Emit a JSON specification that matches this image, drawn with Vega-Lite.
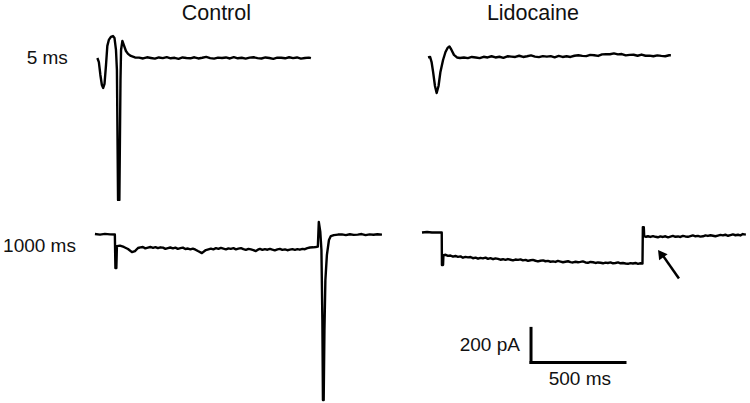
{
  "$schema": "https://vega.github.io/schema/vega-lite/v6.json",
  "padding": 0,
  "autosize": {"type": "pad"},
  "bounds": "flush",
  "spacing": 0,
  "columns": 2,
  "background": "white",
  "config": {"view": {"stroke": null}, "font": "Liberation Sans", "text": {"font": "Liberation Sans", "color": "#111"}},
  "datasets": {
    "traces": [
      {"trace":"Control 5 ms","t":13,"pA":0},{"trace":"Control 5 ms","t":21,"pA":-24},{"trace":"Control 5 ms","t":29,"pA":-100},{"trace":"Control 5 ms","t":37,"pA":-159},{"trace":"Control 5 ms","t":44,"pA":-176},{"trace":"Control 5 ms","t":51,"pA":-153},{"trace":"Control 5 ms","t":59,"pA":-41},{"trace":"Control 5 ms","t":66,"pA":71},{"trace":"Control 5 ms","t":74,"pA":106},{"trace":"Control 5 ms","t":85,"pA":124},{"trace":"Control 5 ms","t":96,"pA":129},{"trace":"Control 5 ms","t":104,"pA":118},{"trace":"Control 5 ms","t":112,"pA":47},{"trace":"Control 5 ms","t":117,"pA":-71},{"trace":"Control 5 ms","t":123,"pA":-835},{"trace":"Control 5 ms","t":130,"pA":-835},{"trace":"Control 5 ms","t":136,"pA":-129},{"trace":"Control 5 ms","t":139,"pA":47},{"trace":"Control 5 ms","t":146,"pA":100},{"trace":"Control 5 ms","t":154,"pA":76},{"trace":"Control 5 ms","t":165,"pA":41},{"trace":"Control 5 ms","t":176,"pA":24},{"trace":"Control 5 ms","t":191,"pA":12},{"trace":"Control 5 ms","t":213,"pA":3},
      {"trace":"Control 5 ms","t":235,"pA":2},{"trace":"Control 5 ms","t":256,"pA":-3},{"trace":"Control 5 ms","t":277,"pA":4},{"trace":"Control 5 ms","t":298,"pA":0},{"trace":"Control 5 ms","t":319,"pA":-4},{"trace":"Control 5 ms","t":340,"pA":3},{"trace":"Control 5 ms","t":361,"pA":-1},{"trace":"Control 5 ms","t":382,"pA":5},{"trace":"Control 5 ms","t":403,"pA":-2},{"trace":"Control 5 ms","t":424,"pA":1},{"trace":"Control 5 ms","t":445,"pA":-5},{"trace":"Control 5 ms","t":466,"pA":3},{"trace":"Control 5 ms","t":487,"pA":0},{"trace":"Control 5 ms","t":508,"pA":-2},{"trace":"Control 5 ms","t":529,"pA":4},{"trace":"Control 5 ms","t":550,"pA":-3},{"trace":"Control 5 ms","t":571,"pA":1},{"trace":"Control 5 ms","t":592,"pA":6},{"trace":"Control 5 ms","t":613,"pA":-1},{"trace":"Control 5 ms","t":634,"pA":-4},{"trace":"Control 5 ms","t":655,"pA":2},{"trace":"Control 5 ms","t":676,"pA":0},{"trace":"Control 5 ms","t":697,"pA":3},{"trace":"Control 5 ms","t":718,"pA":-3},{"trace":"Control 5 ms","t":739,"pA":5},{"trace":"Control 5 ms","t":760,"pA":-2},{"trace":"Control 5 ms","t":781,"pA":1},{"trace":"Control 5 ms","t":802,"pA":-4},{"trace":"Control 5 ms","t":823,"pA":2},{"trace":"Control 5 ms","t":844,"pA":4},{"trace":"Control 5 ms","t":865,"pA":-1},{"trace":"Control 5 ms","t":886,"pA":-3},{"trace":"Control 5 ms","t":907,"pA":3},{"trace":"Control 5 ms","t":928,"pA":0},{"trace":"Control 5 ms","t":949,"pA":-5},{"trace":"Control 5 ms","t":970,"pA":2},{"trace":"Control 5 ms","t":991,"pA":1},{"trace":"Control 5 ms","t":1012,"pA":-2},{"trace":"Control 5 ms","t":1033,"pA":4},{"trace":"Control 5 ms","t":1054,"pA":-1},{"trace":"Control 5 ms","t":1075,"pA":3},{"trace":"Control 5 ms","t":1096,"pA":-4},{"trace":"Control 5 ms","t":1117,"pA":0},{"trace":"Control 5 ms","t":1138,"pA":2},{"trace":"Control 5 ms","t":1149,"pA":-1},

      {"trace":"Lidocaine 5 ms","t":32,"pA":3},{"trace":"Lidocaine 5 ms","t":43,"pA":6},{"trace":"Lidocaine 5 ms","t":51,"pA":-24},{"trace":"Lidocaine 5 ms","t":59,"pA":-82},{"trace":"Lidocaine 5 ms","t":69,"pA":-165},{"trace":"Lidocaine 5 ms","t":78,"pA":-206},{"trace":"Lidocaine 5 ms","t":88,"pA":-165},{"trace":"Lidocaine 5 ms","t":98,"pA":-82},{"trace":"Lidocaine 5 ms","t":112,"pA":-12},{"trace":"Lidocaine 5 ms","t":125,"pA":35},{"trace":"Lidocaine 5 ms","t":136,"pA":59},{"trace":"Lidocaine 5 ms","t":146,"pA":68},{"trace":"Lidocaine 5 ms","t":157,"pA":47},{"trace":"Lidocaine 5 ms","t":170,"pA":18},{"trace":"Lidocaine 5 ms","t":186,"pA":3},{"trace":"Lidocaine 5 ms","t":202,"pA":0},
      {"trace":"Lidocaine 5 ms","t":223,"pA":3},{"trace":"Lidocaine 5 ms","t":244,"pA":-1},{"trace":"Lidocaine 5 ms","t":265,"pA":6},{"trace":"Lidocaine 5 ms","t":286,"pA":3},{"trace":"Lidocaine 5 ms","t":307,"pA":-1},{"trace":"Lidocaine 5 ms","t":328,"pA":7},{"trace":"Lidocaine 5 ms","t":349,"pA":3},{"trace":"Lidocaine 5 ms","t":370,"pA":10},{"trace":"Lidocaine 5 ms","t":391,"pA":3},{"trace":"Lidocaine 5 ms","t":412,"pA":7},{"trace":"Lidocaine 5 ms","t":433,"pA":1},{"trace":"Lidocaine 5 ms","t":454,"pA":10},{"trace":"Lidocaine 5 ms","t":475,"pA":8},{"trace":"Lidocaine 5 ms","t":496,"pA":6},{"trace":"Lidocaine 5 ms","t":517,"pA":13},{"trace":"Lidocaine 5 ms","t":538,"pA":6},{"trace":"Lidocaine 5 ms","t":559,"pA":10},{"trace":"Lidocaine 5 ms","t":580,"pA":15},{"trace":"Lidocaine 5 ms","t":601,"pA":8},{"trace":"Lidocaine 5 ms","t":622,"pA":5},{"trace":"Lidocaine 5 ms","t":643,"pA":11},{"trace":"Lidocaine 5 ms","t":664,"pA":8},{"trace":"Lidocaine 5 ms","t":685,"pA":11},{"trace":"Lidocaine 5 ms","t":706,"pA":4},{"trace":"Lidocaine 5 ms","t":727,"pA":12},{"trace":"Lidocaine 5 ms","t":748,"pA":6},{"trace":"Lidocaine 5 ms","t":769,"pA":10},{"trace":"Lidocaine 5 ms","t":790,"pA":6},{"trace":"Lidocaine 5 ms","t":811,"pA":13},{"trace":"Lidocaine 5 ms","t":832,"pA":16},{"trace":"Lidocaine 5 ms","t":853,"pA":12},{"trace":"Lidocaine 5 ms","t":874,"pA":11},{"trace":"Lidocaine 5 ms","t":895,"pA":18},{"trace":"Lidocaine 5 ms","t":916,"pA":16},{"trace":"Lidocaine 5 ms","t":937,"pA":12},{"trace":"Lidocaine 5 ms","t":958,"pA":21},{"trace":"Lidocaine 5 ms","t":979,"pA":22},{"trace":"Lidocaine 5 ms","t":1000,"pA":22},{"trace":"Lidocaine 5 ms","t":1021,"pA":27},{"trace":"Lidocaine 5 ms","t":1042,"pA":21},{"trace":"Lidocaine 5 ms","t":1063,"pA":23},{"trace":"Lidocaine 5 ms","t":1084,"pA":15},{"trace":"Lidocaine 5 ms","t":1105,"pA":18},{"trace":"Lidocaine 5 ms","t":1126,"pA":19},{"trace":"Lidocaine 5 ms","t":1147,"pA":13},{"trace":"Lidocaine 5 ms","t":1168,"pA":20},{"trace":"Lidocaine 5 ms","t":1189,"pA":13},{"trace":"Lidocaine 5 ms","t":1210,"pA":14},{"trace":"Lidocaine 5 ms","t":1231,"pA":10},{"trace":"Lidocaine 5 ms","t":1252,"pA":15},{"trace":"Lidocaine 5 ms","t":1273,"pA":12},{"trace":"Lidocaine 5 ms","t":1294,"pA":10},{"trace":"Lidocaine 5 ms","t":1315,"pA":16},{"trace":"Lidocaine 5 ms","t":1324,"pA":16},

      {"trace":"Control 1000 ms","t":0,"pA":0},{"trace":"Control 1000 ms","t":27,"pA":-3},{"trace":"Control 1000 ms","t":53,"pA":1},{"trace":"Control 1000 ms","t":80,"pA":-2},{"trace":"Control 1000 ms","t":106,"pA":-3},{"trace":"Control 1000 ms","t":109,"pA":-200},{"trace":"Control 1000 ms","t":114,"pA":-200},{"trace":"Control 1000 ms","t":117,"pA":-71},{"trace":"Control 1000 ms","t":133,"pA":-68},{"trace":"Control 1000 ms","t":154,"pA":-76},{"trace":"Control 1000 ms","t":176,"pA":-88},{"trace":"Control 1000 ms","t":197,"pA":-106},{"trace":"Control 1000 ms","t":213,"pA":-100},{"trace":"Control 1000 ms","t":229,"pA":-82},{"trace":"Control 1000 ms","t":242,"pA":-78},{"trace":"Control 1000 ms","t":255,"pA":-76},{"trace":"Control 1000 ms","t":268,"pA":-84},{"trace":"Control 1000 ms","t":282,"pA":-80},{"trace":"Control 1000 ms","t":295,"pA":-76},{"trace":"Control 1000 ms","t":309,"pA":-81},{"trace":"Control 1000 ms","t":322,"pA":-77},{"trace":"Control 1000 ms","t":335,"pA":-83},{"trace":"Control 1000 ms","t":348,"pA":-78},{"trace":"Control 1000 ms","t":362,"pA":-80},{"trace":"Control 1000 ms","t":375,"pA":-87},{"trace":"Control 1000 ms","t":388,"pA":-83},{"trace":"Control 1000 ms","t":401,"pA":-79},{"trace":"Control 1000 ms","t":415,"pA":-84},{"trace":"Control 1000 ms","t":428,"pA":-80},{"trace":"Control 1000 ms","t":441,"pA":-87},{"trace":"Control 1000 ms","t":455,"pA":-83},{"trace":"Control 1000 ms","t":468,"pA":-80},{"trace":"Control 1000 ms","t":481,"pA":-88},{"trace":"Control 1000 ms","t":495,"pA":-85},{"trace":"Control 1000 ms","t":508,"pA":-90},{"trace":"Control 1000 ms","t":521,"pA":-86},{"trace":"Control 1000 ms","t":535,"pA":-92},{"trace":"Control 1000 ms","t":548,"pA":-100},{"trace":"Control 1000 ms","t":569,"pA":-112},{"trace":"Control 1000 ms","t":590,"pA":-94},{"trace":"Control 1000 ms","t":604,"pA":-90},{"trace":"Control 1000 ms","t":617,"pA":-86},{"trace":"Control 1000 ms","t":630,"pA":-90},{"trace":"Control 1000 ms","t":644,"pA":-83},{"trace":"Control 1000 ms","t":657,"pA":-87},{"trace":"Control 1000 ms","t":670,"pA":-81},{"trace":"Control 1000 ms","t":684,"pA":-86},{"trace":"Control 1000 ms","t":697,"pA":-90},{"trace":"Control 1000 ms","t":710,"pA":-84},{"trace":"Control 1000 ms","t":723,"pA":-87},{"trace":"Control 1000 ms","t":737,"pA":-83},{"trace":"Control 1000 ms","t":750,"pA":-90},{"trace":"Control 1000 ms","t":763,"pA":-86},{"trace":"Control 1000 ms","t":777,"pA":-83},{"trace":"Control 1000 ms","t":790,"pA":-89},{"trace":"Control 1000 ms","t":803,"pA":-93},{"trace":"Control 1000 ms","t":817,"pA":-87},{"trace":"Control 1000 ms","t":830,"pA":-90},{"trace":"Control 1000 ms","t":843,"pA":-94},{"trace":"Control 1000 ms","t":856,"pA":-100},{"trace":"Control 1000 ms","t":867,"pA":-92},{"trace":"Control 1000 ms","t":878,"pA":-87},{"trace":"Control 1000 ms","t":891,"pA":-93},{"trace":"Control 1000 ms","t":904,"pA":-89},{"trace":"Control 1000 ms","t":918,"pA":-92},{"trace":"Control 1000 ms","t":931,"pA":-87},{"trace":"Control 1000 ms","t":944,"pA":-92},{"trace":"Control 1000 ms","t":957,"pA":-96},{"trace":"Control 1000 ms","t":971,"pA":-90},{"trace":"Control 1000 ms","t":984,"pA":-87},{"trace":"Control 1000 ms","t":997,"pA":-93},{"trace":"Control 1000 ms","t":1011,"pA":-90},{"trace":"Control 1000 ms","t":1024,"pA":-95},{"trace":"Control 1000 ms","t":1037,"pA":-92},{"trace":"Control 1000 ms","t":1051,"pA":-89},{"trace":"Control 1000 ms","t":1064,"pA":-93},{"trace":"Control 1000 ms","t":1077,"pA":-89},{"trace":"Control 1000 ms","t":1090,"pA":-92},{"trace":"Control 1000 ms","t":1104,"pA":-87},{"trace":"Control 1000 ms","t":1117,"pA":-89},{"trace":"Control 1000 ms","t":1130,"pA":-83},{"trace":"Control 1000 ms","t":1144,"pA":-79},{"trace":"Control 1000 ms","t":1160,"pA":-78},{"trace":"Control 1000 ms","t":1175,"pA":-76},{"trace":"Control 1000 ms","t":1186,"pA":-74},{"trace":"Control 1000 ms","t":1191,"pA":71},{"trace":"Control 1000 ms","t":1199,"pA":12},{"trace":"Control 1000 ms","t":1205,"pA":-94},{"trace":"Control 1000 ms","t":1210,"pA":-506},{"trace":"Control 1000 ms","t":1213,"pA":-976},{"trace":"Control 1000 ms","t":1217,"pA":-976},{"trace":"Control 1000 ms","t":1221,"pA":-565},{"trace":"Control 1000 ms","t":1226,"pA":-271},{"trace":"Control 1000 ms","t":1234,"pA":-124},{"trace":"Control 1000 ms","t":1245,"pA":-35},{"trace":"Control 1000 ms","t":1255,"pA":-12},{"trace":"Control 1000 ms","t":1271,"pA":-6},{"trace":"Control 1000 ms","t":1293,"pA":-3},{"trace":"Control 1000 ms","t":1314,"pA":-2},{"trace":"Control 1000 ms","t":1335,"pA":-6},{"trace":"Control 1000 ms","t":1356,"pA":-1},{"trace":"Control 1000 ms","t":1377,"pA":-5},{"trace":"Control 1000 ms","t":1398,"pA":-3},{"trace":"Control 1000 ms","t":1419,"pA":0},{"trace":"Control 1000 ms","t":1440,"pA":-6},{"trace":"Control 1000 ms","t":1461,"pA":-2},{"trace":"Control 1000 ms","t":1482,"pA":-4},{"trace":"Control 1000 ms","t":1503,"pA":-1},{"trace":"Control 1000 ms","t":1527,"pA":-3},

      {"trace":"Lidocaine 1000 ms","t":0,"pA":9},{"trace":"Lidocaine 1000 ms","t":27,"pA":12},{"trace":"Lidocaine 1000 ms","t":53,"pA":9},{"trace":"Lidocaine 1000 ms","t":80,"pA":10},{"trace":"Lidocaine 1000 ms","t":105,"pA":9},{"trace":"Lidocaine 1000 ms","t":106,"pA":-182},{"trace":"Lidocaine 1000 ms","t":112,"pA":-182},{"trace":"Lidocaine 1000 ms","t":114,"pA":-124},{"trace":"Lidocaine 1000 ms","t":126,"pA":-122},{"trace":"Lidocaine 1000 ms","t":138,"pA":-128},{"trace":"Lidocaine 1000 ms","t":151,"pA":-126},{"trace":"Lidocaine 1000 ms","t":165,"pA":-133},{"trace":"Lidocaine 1000 ms","t":178,"pA":-129},{"trace":"Lidocaine 1000 ms","t":191,"pA":-134},{"trace":"Lidocaine 1000 ms","t":205,"pA":-131},{"trace":"Lidocaine 1000 ms","t":218,"pA":-139},{"trace":"Lidocaine 1000 ms","t":231,"pA":-134},{"trace":"Lidocaine 1000 ms","t":245,"pA":-137},{"trace":"Lidocaine 1000 ms","t":258,"pA":-135},{"trace":"Lidocaine 1000 ms","t":271,"pA":-142},{"trace":"Lidocaine 1000 ms","t":285,"pA":-139},{"trace":"Lidocaine 1000 ms","t":298,"pA":-145},{"trace":"Lidocaine 1000 ms","t":311,"pA":-140},{"trace":"Lidocaine 1000 ms","t":324,"pA":-143},{"trace":"Lidocaine 1000 ms","t":338,"pA":-139},{"trace":"Lidocaine 1000 ms","t":351,"pA":-146},{"trace":"Lidocaine 1000 ms","t":364,"pA":-142},{"trace":"Lidocaine 1000 ms","t":378,"pA":-148},{"trace":"Lidocaine 1000 ms","t":391,"pA":-143},{"trace":"Lidocaine 1000 ms","t":404,"pA":-146},{"trace":"Lidocaine 1000 ms","t":417,"pA":-151},{"trace":"Lidocaine 1000 ms","t":431,"pA":-148},{"trace":"Lidocaine 1000 ms","t":444,"pA":-152},{"trace":"Lidocaine 1000 ms","t":457,"pA":-147},{"trace":"Lidocaine 1000 ms","t":471,"pA":-151},{"trace":"Lidocaine 1000 ms","t":484,"pA":-155},{"trace":"Lidocaine 1000 ms","t":497,"pA":-150},{"trace":"Lidocaine 1000 ms","t":511,"pA":-152},{"trace":"Lidocaine 1000 ms","t":524,"pA":-149},{"trace":"Lidocaine 1000 ms","t":537,"pA":-155},{"trace":"Lidocaine 1000 ms","t":551,"pA":-152},{"trace":"Lidocaine 1000 ms","t":564,"pA":-158},{"trace":"Lidocaine 1000 ms","t":577,"pA":-154},{"trace":"Lidocaine 1000 ms","t":590,"pA":-152},{"trace":"Lidocaine 1000 ms","t":604,"pA":-157},{"trace":"Lidocaine 1000 ms","t":617,"pA":-161},{"trace":"Lidocaine 1000 ms","t":630,"pA":-157},{"trace":"Lidocaine 1000 ms","t":644,"pA":-155},{"trace":"Lidocaine 1000 ms","t":657,"pA":-160},{"trace":"Lidocaine 1000 ms","t":670,"pA":-158},{"trace":"Lidocaine 1000 ms","t":684,"pA":-163},{"trace":"Lidocaine 1000 ms","t":697,"pA":-161},{"trace":"Lidocaine 1000 ms","t":710,"pA":-164},{"trace":"Lidocaine 1000 ms","t":723,"pA":-158},{"trace":"Lidocaine 1000 ms","t":737,"pA":-162},{"trace":"Lidocaine 1000 ms","t":750,"pA":-166},{"trace":"Lidocaine 1000 ms","t":763,"pA":-163},{"trace":"Lidocaine 1000 ms","t":777,"pA":-160},{"trace":"Lidocaine 1000 ms","t":790,"pA":-165},{"trace":"Lidocaine 1000 ms","t":803,"pA":-167},{"trace":"Lidocaine 1000 ms","t":817,"pA":-163},{"trace":"Lidocaine 1000 ms","t":830,"pA":-166},{"trace":"Lidocaine 1000 ms","t":843,"pA":-164},{"trace":"Lidocaine 1000 ms","t":856,"pA":-161},{"trace":"Lidocaine 1000 ms","t":870,"pA":-167},{"trace":"Lidocaine 1000 ms","t":883,"pA":-169},{"trace":"Lidocaine 1000 ms","t":896,"pA":-164},{"trace":"Lidocaine 1000 ms","t":910,"pA":-166},{"trace":"Lidocaine 1000 ms","t":923,"pA":-170},{"trace":"Lidocaine 1000 ms","t":936,"pA":-167},{"trace":"Lidocaine 1000 ms","t":950,"pA":-169},{"trace":"Lidocaine 1000 ms","t":963,"pA":-172},{"trace":"Lidocaine 1000 ms","t":976,"pA":-168},{"trace":"Lidocaine 1000 ms","t":989,"pA":-170},{"trace":"Lidocaine 1000 ms","t":1003,"pA":-167},{"trace":"Lidocaine 1000 ms","t":1016,"pA":-172},{"trace":"Lidocaine 1000 ms","t":1029,"pA":-170},{"trace":"Lidocaine 1000 ms","t":1043,"pA":-167},{"trace":"Lidocaine 1000 ms","t":1056,"pA":-172},{"trace":"Lidocaine 1000 ms","t":1069,"pA":-170},{"trace":"Lidocaine 1000 ms","t":1083,"pA":-173},{"trace":"Lidocaine 1000 ms","t":1096,"pA":-175},{"trace":"Lidocaine 1000 ms","t":1109,"pA":-171},{"trace":"Lidocaine 1000 ms","t":1122,"pA":-173},{"trace":"Lidocaine 1000 ms","t":1136,"pA":-170},{"trace":"Lidocaine 1000 ms","t":1149,"pA":-175},{"trace":"Lidocaine 1000 ms","t":1162,"pA":-172},{"trace":"Lidocaine 1000 ms","t":1173,"pA":-174},{"trace":"Lidocaine 1000 ms","t":1175,"pA":41},{"trace":"Lidocaine 1000 ms","t":1180,"pA":41},{"trace":"Lidocaine 1000 ms","t":1182,"pA":-12},{"trace":"Lidocaine 1000 ms","t":1192,"pA":-16},{"trace":"Lidocaine 1000 ms","t":1202,"pA":-13},{"trace":"Lidocaine 1000 ms","t":1215,"pA":-17},{"trace":"Lidocaine 1000 ms","t":1229,"pA":-12},{"trace":"Lidocaine 1000 ms","t":1242,"pA":-16},{"trace":"Lidocaine 1000 ms","t":1255,"pA":-19},{"trace":"Lidocaine 1000 ms","t":1268,"pA":-14},{"trace":"Lidocaine 1000 ms","t":1282,"pA":-17},{"trace":"Lidocaine 1000 ms","t":1295,"pA":-13},{"trace":"Lidocaine 1000 ms","t":1309,"pA":-19},{"trace":"Lidocaine 1000 ms","t":1322,"pA":-15},{"trace":"Lidocaine 1000 ms","t":1335,"pA":-11},{"trace":"Lidocaine 1000 ms","t":1348,"pA":-16},{"trace":"Lidocaine 1000 ms","t":1362,"pA":-14},{"trace":"Lidocaine 1000 ms","t":1375,"pA":-17},{"trace":"Lidocaine 1000 ms","t":1388,"pA":-11},{"trace":"Lidocaine 1000 ms","t":1401,"pA":-14},{"trace":"Lidocaine 1000 ms","t":1415,"pA":-16},{"trace":"Lidocaine 1000 ms","t":1428,"pA":-12},{"trace":"Lidocaine 1000 ms","t":1441,"pA":-8},{"trace":"Lidocaine 1000 ms","t":1455,"pA":-13},{"trace":"Lidocaine 1000 ms","t":1468,"pA":-11},{"trace":"Lidocaine 1000 ms","t":1481,"pA":-15},{"trace":"Lidocaine 1000 ms","t":1495,"pA":-13},{"trace":"Lidocaine 1000 ms","t":1508,"pA":-8},{"trace":"Lidocaine 1000 ms","t":1521,"pA":-11},{"trace":"Lidocaine 1000 ms","t":1535,"pA":-7},{"trace":"Lidocaine 1000 ms","t":1548,"pA":-10},{"trace":"Lidocaine 1000 ms","t":1561,"pA":-13},{"trace":"Lidocaine 1000 ms","t":1574,"pA":-9},{"trace":"Lidocaine 1000 ms","t":1588,"pA":-5},{"trace":"Lidocaine 1000 ms","t":1601,"pA":-8},{"trace":"Lidocaine 1000 ms","t":1614,"pA":-4},{"trace":"Lidocaine 1000 ms","t":1628,"pA":-10},{"trace":"Lidocaine 1000 ms","t":1641,"pA":-6},{"trace":"Lidocaine 1000 ms","t":1654,"pA":-2},{"trace":"Lidocaine 1000 ms","t":1668,"pA":-7},{"trace":"Lidocaine 1000 ms","t":1681,"pA":-4},{"trace":"Lidocaine 1000 ms","t":1694,"pA":-8},{"trace":"Lidocaine 1000 ms","t":1707,"pA":0},{"trace":"Lidocaine 1000 ms","t":1723,"pA":-3}
    ]
  },
  "concat": [
    {
      "width": 422, "height": 205,
      "layer": [
        {
          "data": {"name": "traces"},
          "transform": [{"filter": "datum.trace === 'Control 5 ms'"}],
          "mark": {"type": "line", "color": "black", "strokeWidth": 2.4, "strokeJoin": "round"},
          "encoding": {
            "x": {"field": "t", "type": "quantitative", "scale": {"domain": [-505, 1740], "nice": false, "zero": false}, "axis": null},
            "y": {"field": "pA", "type": "quantitative", "scale": {"domain": [-865, 341], "nice": false, "zero": false}, "axis": null}
          }
        },
        {
          "data": {"values": [{"label": "Control", "t": 646, "pA": 259}]},
          "mark": {"type": "text", "fontSize": 21.5, "align": "center", "baseline": "middle"},
          "encoding": {"x": {"field": "t", "type": "quantitative"}, "y": {"field": "pA", "type": "quantitative"}, "text": {"field": "label"}}
        },
        {
          "data": {"values": [{"label": "5 ms", "t": -144, "pA": 0}]},
          "mark": {"type": "text", "fontSize": 19, "align": "right", "baseline": "middle"},
          "encoding": {"x": {"field": "t", "type": "quantitative"}, "y": {"field": "pA", "type": "quantitative"}, "text": {"field": "label"}}
        }
      ]
    },
    {
      "width": 328, "height": 205,
      "layer": [
        {
          "data": {"name": "traces"},
          "transform": [{"filter": "datum.trace === 'Lidocaine 5 ms'"}],
          "mark": {"type": "line", "color": "black", "strokeWidth": 2.4, "strokeJoin": "round"},
          "encoding": {
            "x": {"field": "t", "type": "quantitative", "scale": {"domain": [0, 1745], "nice": false, "zero": false}, "axis": null},
            "y": {"field": "pA", "type": "quantitative", "scale": {"domain": [-865, 341], "nice": false, "zero": false}, "axis": null}
          }
        },
        {
          "data": {"values": [{"label": "Lidocaine", "t": 590, "pA": 259}]},
          "mark": {"type": "text", "fontSize": 21.5, "align": "center", "baseline": "middle"},
          "encoding": {"x": {"field": "t", "type": "quantitative"}, "y": {"field": "pA", "type": "quantitative"}, "text": {"field": "label"}}
        }
      ]
    },
    {
      "width": 422, "height": 198,
      "layer": [
        {
          "data": {"name": "traces"},
          "transform": [{"filter": "datum.trace === 'Control 1000 ms'"}],
          "mark": {"type": "line", "color": "black", "strokeWidth": 2.4, "strokeJoin": "round"},
          "encoding": {
            "x": {"field": "t", "type": "quantitative", "scale": {"domain": [-505, 1740], "nice": false, "zero": false}, "axis": null},
            "y": {"field": "pA", "type": "quantitative", "scale": {"domain": [-994, 171], "nice": false, "zero": false}, "axis": null}
          }
        },
        {
          "data": {"values": [{"label": "1000 ms", "t": -101, "pA": -71}]},
          "mark": {"type": "text", "fontSize": 19, "align": "right", "baseline": "middle"},
          "encoding": {"x": {"field": "t", "type": "quantitative"}, "y": {"field": "pA", "type": "quantitative"}, "text": {"field": "label"}}
        }
      ]
    },
    {
      "width": 328, "height": 198,
      "layer": [
        {
          "data": {"name": "traces"},
          "transform": [{"filter": "datum.trace === 'Lidocaine 1000 ms'"}],
          "mark": {"type": "line", "color": "black", "strokeWidth": 2.4, "strokeJoin": "round"},
          "encoding": {
            "x": {"field": "t", "type": "quantitative", "scale": {"domain": [0, 1745], "nice": false, "zero": false}, "axis": null},
            "y": {"field": "pA", "type": "quantitative", "scale": {"domain": [-994, 171], "nice": false, "zero": false}, "axis": null}
          }
        },
        {
          "data": {"values": [{"t": 580, "pA": -555, "pA2": -755}]},
          "mark": {"type": "rule", "color": "black", "strokeWidth": 3, "strokeCap": "square"},
          "encoding": {"x": {"field": "t", "type": "quantitative"}, "y": {"field": "pA", "type": "quantitative"}, "y2": {"field": "pA2"}}
        },
        {
          "data": {"values": [{"t": 580, "t2": 1080, "pA": -755}]},
          "mark": {"type": "rule", "color": "black", "strokeWidth": 3, "strokeCap": "square"},
          "encoding": {"x": {"field": "t", "type": "quantitative"}, "x2": {"field": "t2"}, "y": {"field": "pA", "type": "quantitative"}}
        },
        {
          "data": {"values": [{"label": "200 pA", "t": 521, "pA": -653}]},
          "mark": {"type": "text", "fontSize": 19, "align": "right", "baseline": "middle"},
          "encoding": {"x": {"field": "t", "type": "quantitative"}, "y": {"field": "pA", "type": "quantitative"}, "text": {"field": "label"}}
        },
        {
          "data": {"values": [{"label": "500 ms", "t": 840, "pA": -855}]},
          "mark": {"type": "text", "fontSize": 19, "align": "center", "baseline": "middle"},
          "encoding": {"x": {"field": "t", "type": "quantitative"}, "y": {"field": "pA", "type": "quantitative"}, "text": {"field": "label"}}
        },
        {
          "data": {"values": [{"t": 1367, "pA": -262}, {"t": 1276, "pA": -118}]},
          "mark": {"type": "line", "color": "black", "strokeWidth": 2.5},
          "encoding": {"x": {"field": "t", "type": "quantitative"}, "y": {"field": "pA", "type": "quantitative"}}
        },
        {
          "data": {"values": [{"t": 1270, "pA": -115}]},
          "mark": {"type": "point", "shape": "triangle-up", "filled": true, "color": "black", "size": 110, "angle": 324, "opacity": 1},
          "encoding": {"x": {"field": "t", "type": "quantitative"}, "y": {"field": "pA", "type": "quantitative"}}
        }
      ]
    }
  ]
}
